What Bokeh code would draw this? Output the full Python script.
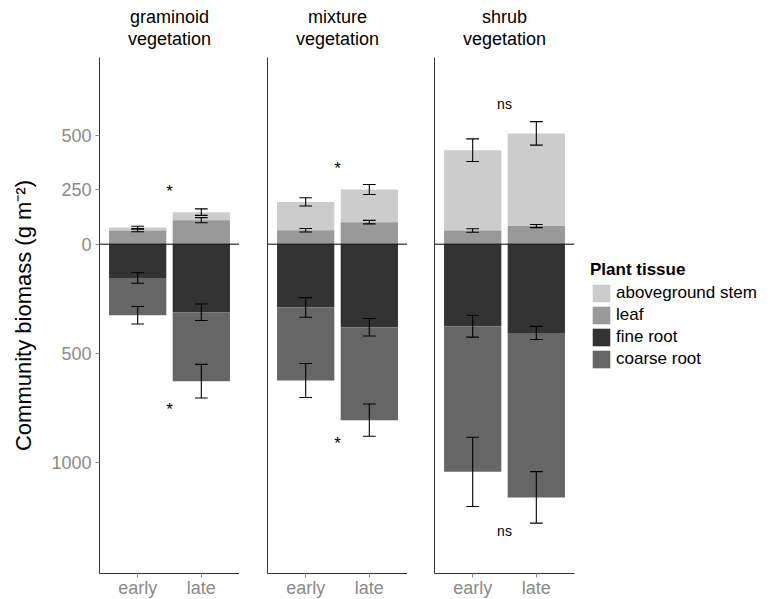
import numpy as np
from bokeh.plotting import figure
from bokeh.models import Range1d, FixedTicker, Span, Title, Legend, LegendItem, ColumnDataSource
from bokeh.layouts import row
from bokeh.embed import file_html
from bokeh.resources import INLINE
from bokeh.core.properties import value

# ---------------- data ----------------
groups = ["graminoid", "mixture", "shrub"]
group_subtitle = "vegetation"
periods = ["early", "late"]
tissues = ["aboveground stem", "leaf", "fine root", "coarse root"]

# biomass of each tissue (g m-2), per group: [early, late]
leaf = [[63, 110], [64, 101], [63, 83]]
stem = [[14, 37], [130, 150], [368, 425]]
fine_root = [[155, 312], [290, 381], [376, 407]]
coarse_root = [[171, 316], [335, 426], [668, 754]]

# standard errors
leaf_se = [[6, 12], [8, 8], [8, 7]]
stem_se = [[5, 15], [19, 23], [52, 54]]
fine_root_se = [[24, 38], [45, 40], [50, 30]]
coarse_root_se = [[40, 77], [78, 74], [159, 118]]

# significance annotations
sig_text = ["*", "*", "ns"]
sig_above = [251, 355, 641]
sig_below = [751, 907, 1313]

y_ticks = [-1000, -500, 0, 250, 500]
y_tick_labels = ["1000", "500", "0", "250", "500"]

colors = ["#cccccc", "#999999", "#333333", "#666666"]

FONT = "Liberation Sans"
GREY = "#8a8a8a"


def make_panel(i, left, right, first):
    x = np.arange(1, len(periods) + 1)
    lf = np.array(leaf[i], float)
    st = np.array(stem[i], float)
    fr = np.array(fine_root[i], float)
    cr = np.array(coarse_root[i], float)

    p = figure(frame_width=140, frame_height=516, x_range=Range1d(0.4, 2.6),
               y_range=Range1d(-1510, 856), output_backend="svg",
               toolbar_location=None, min_border_left=left, min_border_right=right,
               min_border_top=57, min_border_bottom=0)
    p.outline_line_color = None
    p.xgrid.visible = False
    p.ygrid.visible = False
    p.background_fill_color = "white"

    # two-line strip title: group name (outer) and "vegetation" (inner)
    p.title.text = groups[i]
    p.title.align = "center"
    p.title.text_font = FONT
    p.title.text_font_size = "18px"
    p.title.text_font_style = "normal"
    p.title.text_color = "black"
    p.title.text_line_height = 0.92
    p.title.standoff = 0
    spacer = Title(text=" ", align="center", text_font=FONT, text_font_size="7px",
                   text_line_height=1.0, standoff=0)
    p.add_layout(spacer, "above")
    t2 = Title(text=group_subtitle, align="center", text_font=FONT, text_font_size="18px",
               text_font_style="normal", text_color="black", text_line_height=0.92,
               standoff=0)
    p.add_layout(t2, "above")

    src = ColumnDataSource(dict(
        x=x,
        leaf_top=lf,
        stem_top=lf + st,
        fine_bot=-fr,
        coarse_bot=-(fr + cr),
        zero=np.zeros_like(lf),
    ))
    r_stem = p.vbar(x="x", bottom="leaf_top", top="stem_top", width=0.9, source=src,
                    fill_color=colors[0], line_color=None)
    r_leaf = p.vbar(x="x", bottom="zero", top="leaf_top", width=0.9, source=src,
                    fill_color=colors[1], line_color=None)
    r_fine = p.vbar(x="x", bottom="fine_bot", top="zero", width=0.9, source=src,
                    fill_color=colors[2], line_color=None)
    r_coarse = p.vbar(x="x", bottom="coarse_bot", top="fine_bot", width=0.9, source=src,
                      fill_color=colors[3], line_color=None)

    p.add_layout(Span(location=0, dimension="width", line_color="black", line_width=1))

    # error bars
    centers = [lf + st, lf, -fr, -(fr + cr)]
    errs = [np.array(stem_se[i], float), np.array(leaf_se[i], float),
            np.array(fine_root_se[i], float), np.array(coarse_root_se[i], float)]
    for c, e in zip(centers, errs):
        p.segment(x0=x, y0=c - e, x1=x, y1=c + e, line_color="black", line_width=1.1)
        p.segment(x0=x - 0.1, y0=c - e, x1=x + 0.1, y1=c - e, line_color="black", line_width=1.1)
        p.segment(x0=x - 0.1, y0=c + e, x1=x + 0.1, y1=c + e, line_color="black", line_width=1.1)

    # significance labels
    is_star = sig_text[i] == "*"
    p.text(x=[1.5, 1.5], y=[sig_above[i], -sig_below[i]], text=[sig_text[i]] * 2,
           text_align="center", text_baseline="middle", text_font=value(FONT),
           text_font_size="17px" if is_star else "14px", text_color="black",
           y_offset=2 if is_star else 0)

    # x axis
    xa = p.xaxis[0]
    xa.ticker = FixedTicker(ticks=list(x))
    xa.major_label_overrides = {int(k): v for k, v in zip(x, periods)}
    xa.major_label_text_font = FONT
    xa.major_label_text_font_size = "18px"
    xa.major_label_text_color = GREY
    xa.major_tick_out = 4
    xa.major_tick_in = 0
    xa.major_tick_line_color = GREY
    xa.minor_tick_line_color = None
    xa.axis_line_color = "#333333"
    xa.major_label_standoff = 0

    ya = p.yaxis[0]
    ya.axis_line_color = "#333333"
    ya.minor_tick_line_color = None
    if first:
        ya.ticker = FixedTicker(ticks=y_ticks)
        ya.major_label_overrides = {t: l for t, l in zip(y_ticks, y_tick_labels)}
        ya.major_label_text_font = FONT
        ya.major_label_text_font_size = "18px"
        ya.major_label_text_color = GREY
        ya.major_tick_out = 4
        ya.major_tick_in = 0
        ya.major_tick_line_color = GREY
        ya.major_label_standoff = 4
        ya.axis_label = "Community biomass (g m\u207b\u00b2)"
        ya.axis_label_text_font = FONT
        ya.axis_label_text_font_size = "22px"
        ya.axis_label_text_font_style = "normal"
        ya.axis_label_text_color = "black"
        ya.axis_label_standoff = 12
    else:
        ya.ticker = FixedTicker(ticks=[])
        ya.major_tick_out = 0
        ya.major_tick_in = 0
        ya.major_label_text_font_size = "0px"
        ya.major_label_standoff = 0

    return p, [r_stem, r_leaf, r_fine, r_coarse]


p1, _ = make_panel(0, 99, 0, True)
p2, _ = make_panel(1, 28, 0, False)
p3, rends = make_panel(2, 27, 190, False)

legend = Legend(items=[LegendItem(label=t, renderers=[r]) for t, r in zip(tissues, rends)],
                title="Plant tissue", location="center_left")
legend.title_text_font = FONT
legend.title_text_font_size = "17px"
legend.title_text_font_style = "bold"
legend.title_text_color = "black"
legend.title_standoff = 2
legend.label_text_font = FONT
legend.label_text_font_size = "17px"
legend.label_text_color = "black"
legend.glyph_width = 22
legend.glyph_height = 22
legend.label_height = 22
legend.label_standoff = 4
legend.spacing = 0
legend.padding = 0
legend.margin = 16
legend.border_line_color = None
legend.background_fill_alpha = 0
p3.add_layout(legend, "right")

layout = row(p1, p2, p3, spacing=0)
open("out.html", "w").write(file_html(layout, INLINE))
